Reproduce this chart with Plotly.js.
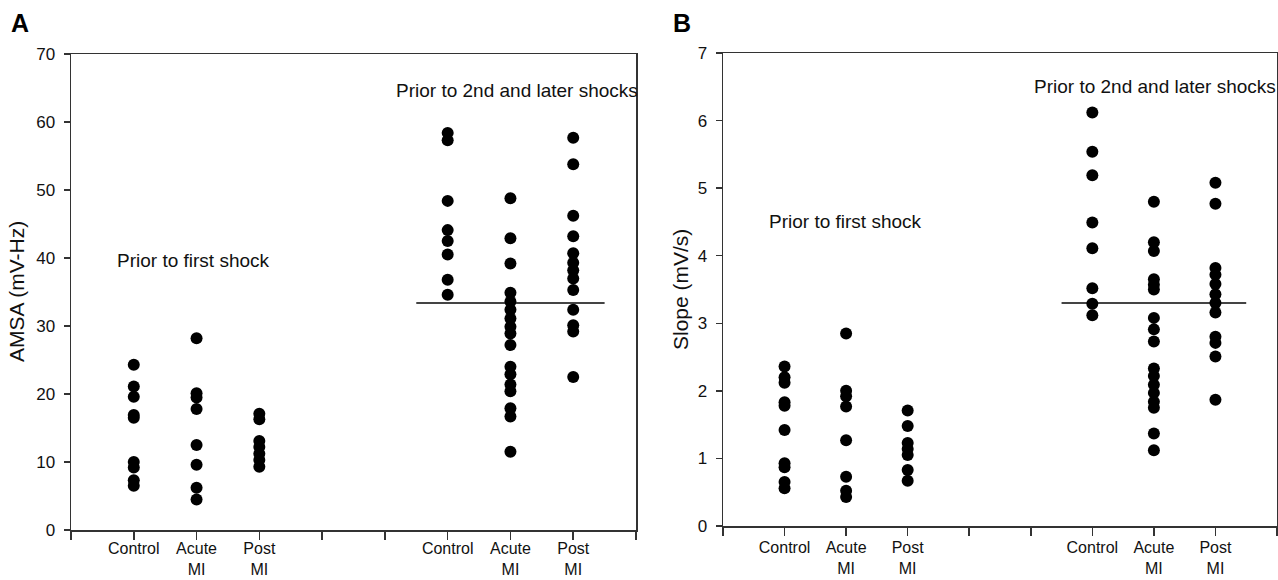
<!DOCTYPE html>
<html>
<head>
<meta charset="utf-8">
<script src="https://cdn.plot.ly/plotly-3.0.1.min.js"></script>
<style>html,body{margin:0;padding:0;background:#fff;}#chart{width:1278px;height:580px;}</style>
</head>
<body>
<div id="chart"></div>
<script>
// ---- Data ----
var groupNames = ['Control', 'Acute MI', 'Post MI'];
var firstPositions = [1, 2, 3];
var laterPositions = [6, 7, 8];
var tickPositions = [0, 1, 2, 3, 4, 5, 6, 7, 8, 9];
var tickLabels = ['', 'Control', 'Acute<br>MI', 'Post<br>MI', '', '', 'Control', 'Acute<br>MI', 'Post<br>MI', ''];

// Panel A: AMSA (mV-Hz)
var amsaFirstControl = [24.3, 21.1, 19.6, 16.9, 16.5, 10.0, 9.2, 7.3, 6.5];
var amsaFirstAcute = [28.2, 20.1, 19.5, 17.8, 12.5, 9.6, 6.2, 4.5];
var amsaFirstPost = [17.1, 16.3, 13.1, 12.2, 11.2, 10.3, 9.3];
var amsaLaterControl = [58.4, 57.3, 48.4, 44.1, 42.5, 40.5, 36.8, 34.6];
var amsaLaterAcute = [48.8, 42.9, 39.2, 34.9, 33.6, 32.4, 31.1, 29.9, 28.9, 27.2, 24.0, 22.9, 21.4, 20.4, 17.9, 16.7, 11.5];
var amsaLaterPost = [57.7, 53.8, 46.2, 43.2, 40.7, 39.3, 38.2, 37.0, 35.3, 32.4, 30.1, 29.2, 22.5];
var amsaThreshold = 33.4;

// Panel B: Slope (mV/s)
var slopeFirstControl = [2.36, 2.2, 2.12, 1.83, 1.78, 1.42, 0.93, 0.87, 0.65, 0.56];
var slopeFirstAcute = [2.85, 2.0, 1.92, 1.77, 1.27, 0.73, 0.52, 0.43];
var slopeFirstPost = [1.71, 1.48, 1.23, 1.14, 1.05, 0.83, 0.67];
var slopeLaterControl = [6.12, 5.54, 5.19, 4.49, 4.11, 3.52, 3.29, 3.12];
var slopeLaterAcute = [4.80, 4.20, 4.07, 3.65, 3.57, 3.50, 3.08, 2.91, 2.73, 2.33, 2.22, 2.09, 1.97, 1.84, 1.75, 1.37, 1.12];
var slopeLaterPost = [5.08, 4.77, 3.82, 3.72, 3.58, 3.43, 3.30, 3.16, 2.80, 2.71, 2.51, 1.87];
var slopeThreshold = 3.3;

// ---- Build ----
var FONT = 'Liberation Sans, Arial, sans-serif';
var AXC = '#333333';
var traces = [];

function addGroup(values, pos, xa, ya, name) {
  var xs = values.map(function () { return pos; });
  traces.push({
    type: 'scatter', mode: 'markers', x: xs, y: values, xaxis: xa, yaxis: ya,
    name: name, showlegend: false, cliponaxis: false,
    marker: {color: '#000000', size: 12, line: {width: 0}},
    hoverinfo: 'y'
  });
}
function addThreshold(value, xa, ya) {
  traces.push({
    type: 'scatter', mode: 'lines',
    x: [laterPositions[0] - 0.5, laterPositions[2] + 0.5], y: [value, value],
    xaxis: xa, yaxis: ya, showlegend: false, hoverinfo: 'skip',
    line: {color: '#444444', width: 2}
  });
}

addThreshold(amsaThreshold, 'x', 'y');
addThreshold(slopeThreshold, 'x2', 'y2');

var aFirst = [amsaFirstControl, amsaFirstAcute, amsaFirstPost];
var aLater = [amsaLaterControl, amsaLaterAcute, amsaLaterPost];
var bFirst = [slopeFirstControl, slopeFirstAcute, slopeFirstPost];
var bLater = [slopeLaterControl, slopeLaterAcute, slopeLaterPost];
for (var i = 0; i < 3; i++) {
  addGroup(aFirst[i], firstPositions[i], 'x', 'y', groupNames[i] + ' (first)');
  addGroup(aLater[i], laterPositions[i], 'x', 'y', groupNames[i] + ' (later)');
  addGroup(bFirst[i], firstPositions[i], 'x2', 'y2', groupNames[i] + ' (first)');
  addGroup(bLater[i], laterPositions[i], 'x2', 'y2', groupNames[i] + ' (later)');
}

function xAxis(domain, anchor, standoff) {
  return {
    domain: domain, anchor: anchor, range: [0, 9], fixedrange: true,
    tickmode: 'array', tickvals: tickPositions, ticktext: tickLabels,
    ticks: 'outside', ticklen: 8, tickwidth: 1.5, tickcolor: AXC,
    showline: true, linecolor: AXC, linewidth: 1.5, mirror: true,
    showgrid: false, zeroline: false, ticklabelstandoff: standoff,
    tickfont: {family: FONT, size: 16, color: '#111111'}
  };
}
function yAxis(domain, anchor, range, dtick) {
  return {
    domain: domain, anchor: anchor, range: range, dtick: dtick, tick0: 0, fixedrange: true,
    ticks: 'outside', ticklen: 6, tickwidth: 1.5, tickcolor: AXC,
    showline: true, linecolor: AXC, linewidth: 1.5, mirror: true,
    showgrid: false, zeroline: false, ticklabelstandoff: 5,
    tickfont: {family: FONT, size: 17, color: '#111111'}
  };
}

var W = 1278, H = 580;
var layout = {
  width: W, height: H,
  margin: {l: 0, r: 0, t: 0, b: 0},
  paper_bgcolor: '#ffffff', plot_bgcolor: '#ffffff',
  showlegend: false,
  font: {family: FONT, color: '#111111'},
  xaxis: xAxis([71 / W, 636 / W], 'y', -5),
  yaxis: yAxis([50 / H, 526 / H], 'x', [0, 70], 10),
  xaxis2: xAxis([723 / W, 1277 / W], 'y2', -2),
  yaxis2: yAxis([54 / H, 527 / H], 'x2', [0, 7], 1),
  annotations: [
    {text: '<b>A</b>', xref: 'paper', yref: 'paper', x: 20 / W, y: 1 - 23 / H, xanchor: 'center', yanchor: 'middle', showarrow: false,
     font: {family: FONT, size: 25, color: '#000'}},
    {text: '<b>B</b>', xref: 'paper', yref: 'paper', x: 682 / W, y: 1 - 23 / H, xanchor: 'center', yanchor: 'middle', showarrow: false,
     font: {family: FONT, size: 25, color: '#000'}},
    {text: 'AMSA (mV-Hz)', xref: 'paper', yref: 'paper', x: 16 / W, y: 1 - 292 / H, textangle: -90, xanchor: 'center', yanchor: 'middle', showarrow: false,
     font: {family: FONT, size: 21, color: '#111'}},
    {text: 'Slope (mV/s)', xref: 'paper', yref: 'paper', x: 680 / W, y: 1 - 290 / H, textangle: -90, xanchor: 'center', yanchor: 'middle', showarrow: false,
     font: {family: FONT, size: 21, color: '#111'}},
    {text: 'Prior to first shock', xref: 'x', yref: 'y', x: 0.70, y: 39.7, xanchor: 'left', yanchor: 'middle', showarrow: false,
     font: {family: FONT, size: 19, color: '#111'}},
    {text: 'Prior to 2nd and later shocks', xref: 'x', yref: 'y', x: 5.14, y: 64.7, xanchor: 'left', yanchor: 'middle', showarrow: false,
     font: {family: FONT, size: 19, color: '#111'}},
    {text: 'Prior to first shock', xref: 'x2', yref: 'y2', x: 0.71, y: 4.5, xanchor: 'left', yanchor: 'middle', showarrow: false,
     font: {family: FONT, size: 19, color: '#111'}},
    {text: 'Prior to 2nd and later shocks', xref: 'x2', yref: 'y2', x: 5.02, y: 6.51, xanchor: 'left', yanchor: 'middle', showarrow: false,
     font: {family: FONT, size: 19, color: '#111'}}
  ]
};

Plotly.newPlot('chart', traces, layout, {displayModeBar: false, staticPlot: true});
</script>
</body>
</html>
